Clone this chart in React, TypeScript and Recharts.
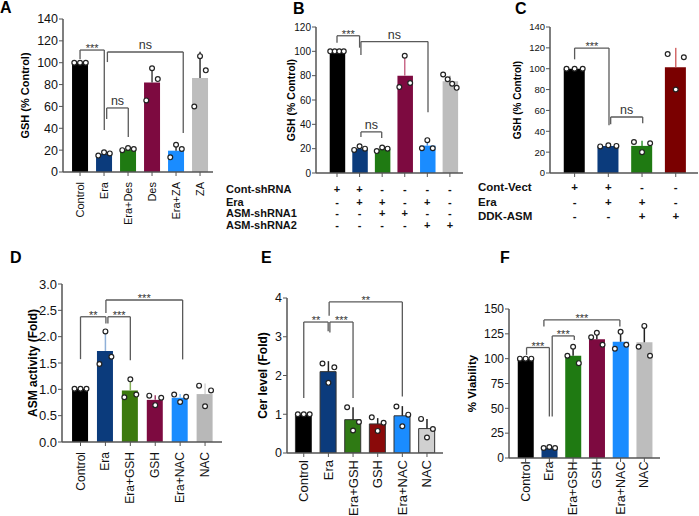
import React from 'react';
import { ComposedChart, Bar, Cell, XAxis, YAxis, Scatter, ErrorBar, ReferenceLine } from 'recharts';

// ---------------- data ----------------
type Bracket = { x1: number; x2: number; y: number; y1: number; y2: number; label: string };

// Panel A
const aCategories = ['Control', 'Era', 'Era+Des', 'Des', 'Era+ZA', 'ZA'];
const aMeans = [100, 16.5, 20.5, 82, 19.5, 86];
const aErrors = [0.5, 2, 1.5, 15, 6, 24];
const aPoints = [[100, 100, 100], [15, 18, 17], [20, 22, 21], [65.5, 95, 85], [13.4, 25, 21], [60, 106, 93]];
const aColors = ['#000000', '#0b3b7c', '#1f7a12', '#7d0a40', '#1a8cff', '#bdbdbd'];
const aErrColors = ['#000', '#333', '#333', '#444', '#333', '#333'];
const aBrackets: Bracket[] = [
  { x1: 0, x2: 1.01, y: 111.6, y1: 103.4, y2: 38.4, label: '***' },
  { x1: 1.14, x2: 4.3, y: 109.8, y1: 100.6, y2: 35.7, label: 'ns' },
  { x1: 1.11, x2: 2.01, y: 58.6, y1: 48.5, y2: 32, label: 'ns' },
];

// Panel B
const bRows = ['Cont-shRNA', 'Era', 'ASM-shRNA1', 'ASM-shRNA2'];
const bSigns = [
  ['+', '+', '-', '-', '-', '-'],
  ['-', '+', '+', '-', '+', '-'],
  ['-', '-', '+', '+', '-', '-'],
  ['-', '-', '-', '-', '+', '+'],
];
const bMeans = [100, 20, 19.5, 80, 22.5, 75.5];
const bErrors = [0.5, 2, 1.8, 14.5, 4.5, 4.5];
const bPoints = [[100, 100, 100, 100], [19, 22, 20], [18, 21, 20], [70.6, 96.4, 74], [20.3, 27, 20.3], [81, 77, 73.4, 70]];
const bColors = ['#000000', '#0b3b7c', '#1f7a12', '#7d0a40', '#1a8cff', '#bdbdbd'];
const bErrColors = ['#000', '#333', '#333', '#c96a8a', '#4a90d9', '#999'];
const bBrackets: Bracket[] = [
  { x1: 0, x2: 1, y: 112.8, y1: 107, y2: 103, label: '***' },
  { x1: 1.06, x2: 4.03, y: 108, y1: 97, y2: 50, label: 'ns' },
  { x1: 1.06, x2: 1.98, y: 33.8, y1: 29.6, y2: 28.8, label: 'ns' },
];

// Panel C
const cRows = ['Cont-Vect', 'Era', 'DDK-ASM'];
const cSigns = [
  ['+', '+', '-', '-'],
  ['-', '+', '+', '-'],
  ['-', '-', '+', '+'],
];
const cMeans = [100, 26, 26, 101.5];
const cErrors = [0.3, 0.5, 5, 18.5];
const cPoints = [[100, 100, 100], [25.5, 26.5, 26], [29.7, 20, 28.5], [114, 80, 111]];
const cColors = ['#000000', '#0b3b7c', '#1f7a12', '#7a0000'];
const cErrColors = ['#000', '#333', '#3a9a3a', '#d46a6a'];
const cBrackets: Bracket[] = [
  { x1: 0, x2: 1.02, y: 119.8, y1: 109, y2: 45.7, label: '***' },
  { x1: 1.07, x2: 2.02, y: 53.7, y1: 46.7, y2: 47.6, label: 'ns' },
];

// Panel D
const dCategories = ['Control', 'Era', 'Era+GSH', 'GSH', 'Era+NAC', 'NAC'];
const dMeans = [1.01, 1.73, 0.98, 0.8, 0.84, 0.91];
const dErrors = [0.01, 0.33, 0.19, 0.09, 0.07, 0.2];
const dPoints = [[1.01, 1.01, 1.01], [1.48, 2.1, 1.62], [0.85, 1.19, 0.9], [0.88, 0.7, 0.84], [0.9, 0.76, 0.86], [1.07, 0.68, 0.98]];
const dColors = ['#000000', '#0b3b7c', '#3c7a0e', '#7d0a40', '#1a8cff', '#b8b8b8'];
const dErrColors = ['#000', '#8fb0d8', '#86b05a', '#a0406a', '#8ec8ff', '#d5d5d5'];
const dBrackets: Bracket[] = [
  { x1: 0, x2: 1.02, y: 2.378, y1: 1.573, y2: 2.25, label: '**' },
  { x1: 1.1, x2: 2, y: 2.378, y1: 2.25, y2: 1.554, label: '***' },
  { x1: 1.02, x2: 4.1, y: 2.696, y1: 2.449, y2: 1.568, label: '***' },
];

// Panel E
const eCategories = ['Control', 'Era', 'Era+GSH', 'GSH', 'Era+NAC', 'NAC'];
const eMeans = [1.0, 2.1, 0.86, 0.75, 0.96, 0.63];
const eErrors = [0.02, 0.27, 0.32, 0.15, 0.25, 0.25];
const ePoints = [[1, 1, 1], [2.31, 1.81, 2.21], [1.18, 0.58, 0.8], [0.92, 0.57, 0.78], [1.2, 0.69, 0.99], [0.88, 0.4, 0.62]];
const eColors = ['#000000', '#0b3b7c', '#2f7a14', '#8a0a0a', '#1a8cff', '#d0d0d0'];
const eErrColors = ['#222', '#222', '#222', '#222', '#222', '#222'];
const eBrackets: Bracket[] = [
  { x1: 0, x2: 0.99, y: 3.38, y1: 1.42, y2: 3.14, label: '**' },
  { x1: 1.06, x2: 2.0, y: 3.38, y1: 3.11, y2: 1.42, label: '***' },
  { x1: 1.03, x2: 4.0, y: 3.9, y1: 3.54, y2: 1.46, label: '**' },
];

// Panel F
const fCategories = ['Control', 'Era', 'Era+GSH', 'GSH', 'Era+NAC', 'NAC'];
const fMeans = [100, 10, 103, 119.5, 117, 116.5];
const fErrors = [0.5, 0.8, 8.5, 6.5, 11, 17];
const fPoints = [[100, 100, 100], [10, 11, 10], [103, 112, 95.5], [121.5, 126, 114], [110, 127, 114], [112, 133, 103]];
const fColors = ['#000000', '#0b3b7c', '#1f7a12', '#7d0a40', '#1a8cff', '#bdbdbd'];
const fErrColors = ['#222', '#222', '#222', '#222', '#222', '#222'];
const fBrackets: Bracket[] = [
  { x1: 0.04, x2: 1.0, y: 111.2, y1: 103.8, y2: 41.8, label: '***' },
  { x1: 1.12, x2: 2.05, y: 122.9, y1: 41.8, y2: 118.9, label: '***' },
  { x1: 0.77, x2: 3.97, y: 139, y1: 132.3, y2: 132.3, label: '***' },
];

// ---------------- rendering helpers ----------------
const AX = '#555';
const BR = '#5a5a5a';

const jitter = (n: number): number[] =>
  n >= 4 ? [-0.3, -0.1, 0.1, 0.3] : n === 3 ? [-0.24, 0, 0.24] : n === 2 ? [-0.15, 0.15] : [0];

const noShape = () => <g />;
const dotShape = (p: any) => (
  <circle cx={p.cx} cy={p.cy} r={2.4} fill="#fff" stroke="#222" strokeWidth={1.2} />
);

const makeRotTick = (labels: string[], dy: number, fs: number) => (p: any) => {
  const yy = p.y + dy;
  return (
    <text
      x={p.x}
      y={yy}
      transform={`rotate(-90 ${p.x} ${yy})`}
      textAnchor="end"
      dominantBaseline="central"
      fontSize={fs}
      fill="#111"
    >
      {labels[p.payload.value]}
    </text>
  );
};

const makeTableTick = (rows: string[], signs: string[][], rowDy: number[], labelX: number, fs: number) => (p: any) => {
  const i = p.payload.value;
  return (
    <g>
      {rows.map((_, k) => (
        <text key={'s' + k} x={p.x} y={p.y + rowDy[k]} textAnchor="middle" dominantBaseline="central"
          fontSize={fs} fontWeight="bold" fill="#111">
          {signs[k][i]}
        </text>
      ))}
      {i === 0 &&
        rows.map((r, k) => (
          <text key={'l' + k} x={labelX} y={p.y + rowDy[k]} textAnchor="start" dominantBaseline="central"
            fontSize={fs} fontWeight="bold" fill="#111">
            {r}
          </text>
        ))}
    </g>
  );
};

interface Cfg {
  left: number; top: number; width: number; height: number;
  margin: { top: number; right: number; bottom: number; left: number };
  yWidth: number; xHeight: number;
  xDomain: [number, number];
  yDomain: [number, number]; yTicks: number[]; yFmt?: (v: number) => string;
  yFont: number; yLabel: string; yLabelDx: number; yLabelFont: number;
  means: number[]; errors: number[]; points: number[][];
  colors: string[]; errColors: string[];
  barSize: number; barStroke?: string; capWidth: number;
  brackets: Bracket[];
  xTick: any;
}

function Panel({ c }: { c: Cfg }) {
  const barData = c.means.map((v, i) => ({ x: i, v }));
  const idx = c.means.map((_, i) => i);
  const pts = c.points.flatMap((arr, i) => {
    const j = jitter(arr.length);
    return arr.map((v, k) => ({ x: i + j[k], v }));
  });
  return (
    <div style={{ position: 'absolute', left: c.left, top: c.top }}>
      <ComposedChart width={c.width} height={c.height} data={barData} margin={c.margin}>
        <XAxis
          type="number" dataKey="x" domain={c.xDomain} allowDataOverflow ticks={idx} interval={0}
          height={c.xHeight} tickSize={4} tickLine={{ stroke: AX }}
          axisLine={{ stroke: AX, strokeWidth: 1.5 }} tick={c.xTick}
        />
        <XAxis xAxisId="p" type="number" dataKey="x" domain={c.xDomain} allowDataOverflow hide />
        <YAxis
          type="number" domain={c.yDomain} allowDataOverflow ticks={c.yTicks} interval={0}
          width={c.yWidth} tickSize={4} tickMargin={1}
          tick={{ fontSize: c.yFont, fill: '#111' }} tickFormatter={c.yFmt}
          tickLine={{ stroke: AX }} axisLine={{ stroke: AX, strokeWidth: 1.5 }}
          label={{ value: c.yLabel, angle: -90, position: 'center', dx: c.yLabelDx, fill: '#000',
            fontSize: c.yLabelFont, fontWeight: 'bold' }}
        />
        <Bar dataKey="v" barSize={c.barSize} isAnimationActive={false}
          stroke={c.barStroke || 'none'} strokeWidth={c.barStroke ? 1 : 0}>
          {idx.map((i) => <Cell key={i} fill={c.colors[i]} />)}
        </Bar>
        {idx.map((i) => (
          <Scatter key={'w' + i} xAxisId="p" data={[{ x: i, v: c.means[i], e: [0, c.errors[i]] }]} dataKey="v"
            shape={noShape} isAnimationActive={false}>
            <ErrorBar dataKey="e" direction="y" width={0} stroke={c.errColors[i]} strokeWidth={1.5} />
          </Scatter>
        ))}
        {idx.map((i) => (
          <Scatter key={'c' + i} xAxisId="p" data={[{ x: i, v: c.means[i] + c.errors[i], e: 0 }]} dataKey="v"
            shape={noShape} isAnimationActive={false}>
            <ErrorBar dataKey="e" direction="y" width={c.capWidth} stroke={c.errColors[i]} strokeWidth={1.5} />
          </Scatter>
        ))}
        <Scatter xAxisId="p" data={pts} dataKey="v" shape={dotShape} isAnimationActive={false} />
        {c.brackets.map((b, k) => [
          <ReferenceLine key={'h' + k} xAxisId="p" segment={[{ x: b.x1, y: b.y }, { x: b.x2, y: b.y }]}
            stroke={BR} strokeWidth={1.3} ifOverflow="visible"
            label={{ value: b.label, position: 'top', offset: b.label === 'ns' ? 3 : -2,
              fontSize: b.label === 'ns' ? 12.5 : 11, fill: '#333' }} />,
          <ReferenceLine key={'l' + k} xAxisId="p" segment={[{ x: b.x1, y: b.y }, { x: b.x1, y: b.y1 }]}
            stroke={BR} strokeWidth={1.3} ifOverflow="visible" />,
          <ReferenceLine key={'r' + k} xAxisId="p" segment={[{ x: b.x2, y: b.y }, { x: b.x2, y: b.y2 }]}
            stroke={BR} strokeWidth={1.3} ifOverflow="visible" />,
        ])}
      </ComposedChart>
    </div>
  );
}

const range = (a: number, b: number, s: number) => {
  const out: number[] = [];
  for (let v = a; v <= b + 1e-9; v += s) out.push(Math.round(v * 100) / 100);
  return out;
};

const panels: Cfg[] = [
  {
    left: 0, top: 0, width: 225, height: 250, margin: { top: 19, right: 12, bottom: 0, left: 0 },
    yWidth: 63, xHeight: 78, xDomain: [-0.71, 5.54], yDomain: [0, 140], yTicks: range(0, 140, 20),
    yFont: 12.5, yLabel: 'GSH (% Control)', yLabelDx: -6.5, yLabelFont: 11,
    means: aMeans, errors: aErrors, points: aPoints, colors: aColors, errColors: aErrColors,
    barSize: 16, capWidth: 10, brackets: aBrackets, xTick: makeRotTick(aCategories, 4, 11),
  },
  {
    left: 220, top: 0, width: 245, height: 250, margin: { top: 27, right: 2, bottom: 0, left: 0 },
    yWidth: 96, xHeight: 77, xDomain: [-0.93, 5.58], yDomain: [0, 120], yTicks: range(0, 120, 20),
    yFont: 10, yLabel: 'GSH (% Control)', yLabelDx: 23, yLabelFont: 10.5,
    means: bMeans, errors: bErrors, points: bPoints, colors: bColors, errColors: bErrColors,
    barSize: 15.5, capWidth: 9, brackets: bBrackets,
    xTick: makeTableTick(bRows, bSigns, [10, 23, 34, 46], 6, 11),
  },
  {
    left: 470, top: 0, width: 229, height: 250, margin: { top: 27, right: 1, bottom: 0, left: 0 },
    yWidth: 80, xHeight: 77, xDomain: [-0.73, 3.66], yDomain: [0, 140], yTicks: range(0, 140, 20),
    yFont: 9.5, yLabel: 'GSH (% Control)', yLabelDx: 7, yLabelFont: 10,
    means: cMeans, errors: cErrors, points: cPoints, colors: cColors, errColors: cErrColors,
    barSize: 21, capWidth: 10, brackets: cBrackets,
    xTick: makeTableTick(cRows, cSigns, [8, 23, 37], 8, 11.5),
  },
  {
    left: 0, top: 255, width: 230, height: 261, margin: { top: 29, right: 8, bottom: 0, left: 0 },
    yWidth: 62, xHeight: 74, xDomain: [-0.743, 5.68], yDomain: [0, 3], yTicks: range(0, 3, 0.5),
    yFmt: (v: number) => v.toFixed(1),
    yFont: 13, yLabel: 'ASM activity (Fold)', yLabelDx: 2, yLabelFont: 12,
    means: dMeans, errors: dErrors, points: dPoints, colors: dColors, errColors: dErrColors,
    barSize: 16, capWidth: 10, brackets: dBrackets, xTick: makeRotTick(dCategories, 4, 12),
  },
  {
    left: 230, top: 255, width: 225, height: 261, margin: { top: 43, right: 12, bottom: 0, left: 0 },
    yWidth: 57, xHeight: 63, xDomain: [-0.68, 5.65], yDomain: [0, 4], yTicks: range(0, 4, 1),
    yFont: 12.5, yLabel: 'Cer level (Fold)', yLabelDx: 4.5, yLabelFont: 12,
    means: eMeans, errors: eErrors, points: ePoints, colors: eColors, errColors: eErrColors,
    barSize: 16, barStroke: '#333', capWidth: 10, brackets: eBrackets, xTick: makeRotTick(eCategories, 1, 13),
  },
  {
    left: 455, top: 255, width: 244, height: 261, margin: { top: 54, right: 39, bottom: 0, left: 0 },
    yWidth: 54, xHeight: 58, xDomain: [-0.7, 5.66], yDomain: [0, 150], yTicks: range(0, 150, 25),
    yFont: 12, yLabel: '% Viability', yLabelDx: -10, yLabelFont: 11.5,
    means: fMeans, errors: fErrors, points: fPoints, colors: fColors, errColors: fErrColors,
    barSize: 16, capWidth: 10, brackets: fBrackets, xTick: makeRotTick(fCategories, -2.5, 12.5),
  },
];

const panelLetters = [
  { t: 'A', x: 0, y: 0 },
  { t: 'B', x: 293, y: 1 },
  { t: 'C', x: 515, y: 1 },
  { t: 'D', x: 10, y: 250 },
  { t: 'E', x: 261, y: 250 },
  { t: 'F', x: 500, y: 250 },
];

export default function App() {
  return (
    <div
      style={{
        position: 'absolute', left: 0, top: 0, width: 699, height: 516, background: '#fff',
        fontFamily: 'Arial, "Liberation Sans", Helvetica, sans-serif', overflow: 'hidden',
      }}
    >
      {panels.map((c, i) => (
        <Panel key={i} c={c} />
      ))}
      {panelLetters.map((l) => (
        <div key={l.t} style={{ position: 'absolute', left: l.x, top: l.y, fontSize: 16, lineHeight: '16px',
          fontWeight: 'bold', color: '#000' }}>
          {l.t}
        </div>
      ))}
    </div>
  );
}
